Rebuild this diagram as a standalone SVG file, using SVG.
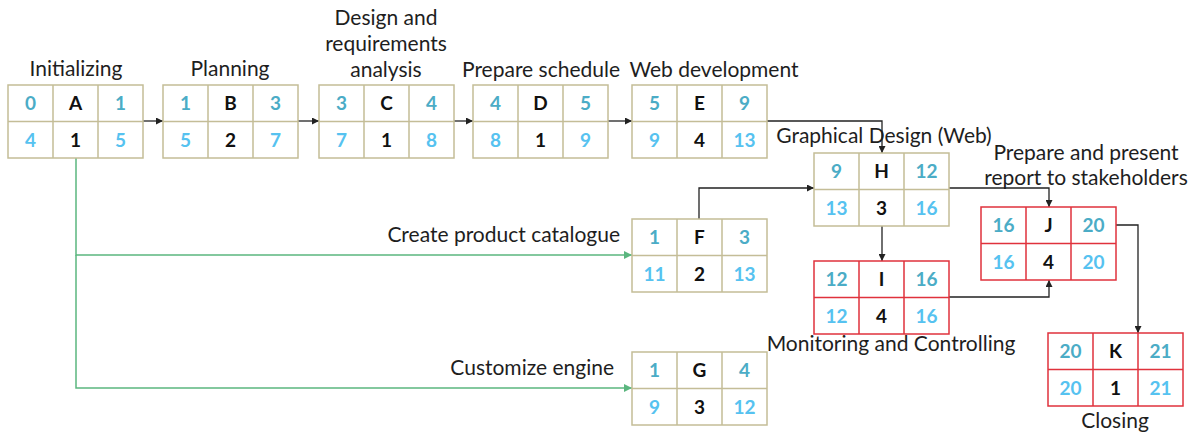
<svg xmlns="http://www.w3.org/2000/svg" width="1196" height="435" viewBox="0 0 1196 435">
  <style>
    .lbl { font-family: Lato, "Open Sans", "Liberation Sans", sans-serif; font-size: 21px; fill: #1e1e1e; }
    .num { font-family: Lato, "Open Sans", "Liberation Sans", sans-serif; font-size: 19px; font-weight: bold; text-anchor: middle; }
    .es { fill: #4bacc6; }
    .lf { fill: #56c2f0; }
    .act { fill: #111; }
    .box { fill: #fff; stroke: #c4bd97; stroke-width: 1.5; }
    .crit { fill: #fff; stroke: #e0323c; stroke-width: 1.5; }
    .grid-n { stroke: #c4bd97; stroke-width: 1.5; }
    .grid-c { stroke: #e0323c; stroke-width: 1.5; }
    .link { fill: none; stroke: #222; stroke-width: 1.3; }
    .link-g { fill: none; stroke: #5bb67f; stroke-width: 1.5; }
  </style>
  <defs>
    <marker id="arr" viewBox="0 0 10 10" refX="10" refY="5" markerWidth="7" markerHeight="7" markerUnits="userSpaceOnUse" orient="auto">
      <path d="M0,0 L10,5 L0,10 z" fill="#222"/>
    </marker>
    <marker id="arr-g" viewBox="0 0 10 10" refX="10" refY="5" markerWidth="8" markerHeight="8" markerUnits="userSpaceOnUse" orient="auto">
      <path d="M0,0 L10,5 L0,10 z" fill="#5bb67f"/>
    </marker>
  </defs>

  <!-- connectors -->
  <g id="connectors">
    <path class="link" d="M143,121 H163" marker-end="url(#arr)"/>
    <path class="link" d="M298,121 H319" marker-end="url(#arr)"/>
    <path class="link" d="M453,121 H473" marker-end="url(#arr)"/>
    <path class="link" d="M608,121 H632" marker-end="url(#arr)"/>
    <path class="link" d="M767,121 H882 V153" marker-end="url(#arr)"/>
    <path class="link" d="M699,219 V188 H814" marker-end="url(#arr)"/>
    <path class="link" d="M882,226 V261" marker-end="url(#arr)"/>
    <path class="link" d="M949,188 H1049 V207" marker-end="url(#arr)"/>
    <path class="link" d="M949,297 H1049 V280" marker-end="url(#arr)"/>
    <path class="link" d="M1116,225 H1138 V333" marker-end="url(#arr)"/>
    <path class="link-g" d="M76,158 V255 H632" marker-end="url(#arr-g)"/>
    <path class="link-g" d="M76,255 V388 H632" marker-end="url(#arr-g)"/>
  </g>

  <!-- A: Initializing -->
  <g id="node-A" transform="translate(8,85)">
    <rect class="box" width="135" height="73"/>
    <path class="grid-n" d="M45,0 V73 M90,0 V73 M0,36.5 H135"/>
    <text class="num es" x="22.5" y="25">0</text><text class="num act" x="67.5" y="25">A</text><text class="num es" x="112.5" y="25">1</text>
    <text class="num lf" x="22.5" y="61.5">4</text><text class="num act" x="67.5" y="61.5">1</text><text class="num lf" x="112.5" y="61.5">5</text>
  </g>
  <text class="lbl" x="76" y="76" text-anchor="middle">Initializing</text>

  <!-- B: Planning -->
  <g id="node-B" transform="translate(163,85)">
    <rect class="box" width="135" height="73"/>
    <path class="grid-n" d="M45,0 V73 M90,0 V73 M0,36.5 H135"/>
    <text class="num es" x="22.5" y="25">1</text><text class="num act" x="67.5" y="25">B</text><text class="num es" x="112.5" y="25">3</text>
    <text class="num lf" x="22.5" y="61.5">5</text><text class="num act" x="67.5" y="61.5">2</text><text class="num lf" x="112.5" y="61.5">7</text>
  </g>
  <text class="lbl" x="230" y="76" text-anchor="middle">Planning</text>

  <!-- C: Design and requirements analysis -->
  <g id="node-C" transform="translate(319,85)">
    <rect class="box" width="135" height="73"/>
    <path class="grid-n" d="M45,0 V73 M90,0 V73 M0,36.5 H135"/>
    <text class="num es" x="22.5" y="25">3</text><text class="num act" x="67.5" y="25">C</text><text class="num es" x="112.5" y="25">4</text>
    <text class="num lf" x="22.5" y="61.5">7</text><text class="num act" x="67.5" y="61.5">1</text><text class="num lf" x="112.5" y="61.5">8</text>
  </g>
  <text class="lbl" x="386" y="25" text-anchor="middle">Design and</text>
  <text class="lbl" x="386" y="51" text-anchor="middle">requirements</text>
  <text class="lbl" x="386" y="77" text-anchor="middle">analysis</text>

  <!-- D: Prepare schedule -->
  <g id="node-D" transform="translate(473,85)">
    <rect class="box" width="135" height="73"/>
    <path class="grid-n" d="M45,0 V73 M90,0 V73 M0,36.5 H135"/>
    <text class="num es" x="22.5" y="25">4</text><text class="num act" x="67.5" y="25">D</text><text class="num es" x="112.5" y="25">5</text>
    <text class="num lf" x="22.5" y="61.5">8</text><text class="num act" x="67.5" y="61.5">1</text><text class="num lf" x="112.5" y="61.5">9</text>
  </g>
  <text class="lbl" x="541" y="77" text-anchor="middle">Prepare schedule</text>

  <!-- E: Web development -->
  <g id="node-E" transform="translate(632,85)">
    <rect class="box" width="135" height="73"/>
    <path class="grid-n" d="M45,0 V73 M90,0 V73 M0,36.5 H135"/>
    <text class="num es" x="22.5" y="25">5</text><text class="num act" x="67.5" y="25">E</text><text class="num es" x="112.5" y="25">9</text>
    <text class="num lf" x="22.5" y="61.5">9</text><text class="num act" x="67.5" y="61.5">4</text><text class="num lf" x="112.5" y="61.5">13</text>
  </g>
  <text class="lbl" x="714" y="77" text-anchor="middle">Web development</text>

  <!-- F: Create product catalogue -->
  <g id="node-F" transform="translate(632,219)">
    <rect class="box" width="135" height="73"/>
    <path class="grid-n" d="M45,0 V73 M90,0 V73 M0,36.5 H135"/>
    <text class="num es" x="22.5" y="25">1</text><text class="num act" x="67.5" y="25">F</text><text class="num es" x="112.5" y="25">3</text>
    <text class="num lf" x="22.5" y="61.5">11</text><text class="num act" x="67.5" y="61.5">2</text><text class="num lf" x="112.5" y="61.5">13</text>
  </g>
  <text class="lbl" x="620" y="242" text-anchor="end">Create product catalogue</text>

  <!-- G: Customize engine -->
  <g id="node-G" transform="translate(632,352)">
    <rect class="box" width="135" height="73"/>
    <path class="grid-n" d="M45,0 V73 M90,0 V73 M0,36.5 H135"/>
    <text class="num es" x="22.5" y="25">1</text><text class="num act" x="67.5" y="25">G</text><text class="num es" x="112.5" y="25">4</text>
    <text class="num lf" x="22.5" y="61.5">9</text><text class="num act" x="67.5" y="61.5">3</text><text class="num lf" x="112.5" y="61.5">12</text>
  </g>
  <text class="lbl" x="614" y="375" text-anchor="end">Customize engine</text>

  <!-- H: Graphical Design (Web) -->
  <g id="node-H" transform="translate(814,153)">
    <rect class="box" width="135" height="73"/>
    <path class="grid-n" d="M45,0 V73 M90,0 V73 M0,36.5 H135"/>
    <text class="num es" x="22.5" y="25">9</text><text class="num act" x="67.5" y="25">H</text><text class="num es" x="112.5" y="25">12</text>
    <text class="num lf" x="22.5" y="61.5">13</text><text class="num act" x="67.5" y="61.5">3</text><text class="num lf" x="112.5" y="61.5">16</text>
  </g>
  <text class="lbl" x="884" y="143" text-anchor="middle">Graphical Design (Web)</text>

  <!-- I: Monitoring and Controlling -->
  <g id="node-I" transform="translate(814,261)">
    <rect class="crit" width="135" height="73"/>
    <path class="grid-c" d="M45,0 V73 M90,0 V73 M0,36.5 H135"/>
    <text class="num es" x="22.5" y="25">12</text><text class="num act" x="67.5" y="25">I</text><text class="num es" x="112.5" y="25">16</text>
    <text class="num lf" x="22.5" y="61.5">12</text><text class="num act" x="67.5" y="61.5">4</text><text class="num lf" x="112.5" y="61.5">16</text>
  </g>
  <text class="lbl" x="891" y="351" text-anchor="middle">Monitoring and Controlling</text>

  <!-- J: Prepare and present report to stakeholders -->
  <g id="node-J" transform="translate(981,207)">
    <rect class="crit" width="135" height="73"/>
    <path class="grid-c" d="M45,0 V73 M90,0 V73 M0,36.5 H135"/>
    <text class="num es" x="22.5" y="25">16</text><text class="num act" x="67.5" y="25">J</text><text class="num es" x="112.5" y="25">20</text>
    <text class="num lf" x="22.5" y="61.5">16</text><text class="num act" x="67.5" y="61.5">4</text><text class="num lf" x="112.5" y="61.5">20</text>
  </g>
  <text class="lbl" x="1086" y="160" text-anchor="middle">Prepare and present</text>
  <text class="lbl" x="1086" y="185" text-anchor="middle">report to stakeholders</text>

  <!-- K: Closing -->
  <g id="node-K" transform="translate(1048,333)">
    <rect class="crit" width="135" height="73"/>
    <path class="grid-c" d="M45,0 V73 M90,0 V73 M0,36.5 H135"/>
    <text class="num es" x="22.5" y="25">20</text><text class="num act" x="67.5" y="25">K</text><text class="num es" x="112.5" y="25">21</text>
    <text class="num lf" x="22.5" y="61.5">20</text><text class="num act" x="67.5" y="61.5">1</text><text class="num lf" x="112.5" y="61.5">21</text>
  </g>
  <text class="lbl" x="1115" y="428" text-anchor="middle">Closing</text>
</svg>
